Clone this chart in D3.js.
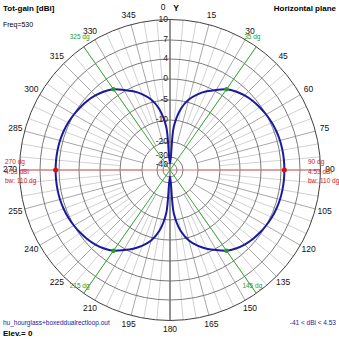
<!DOCTYPE html>
<html><head><meta charset="utf-8">
<script src="https://cdn.jsdelivr.net/npm/d3@7"></script>
<style>html,body{margin:0;padding:0;background:#fff;}svg{display:block;font-family:"Liberation Sans",Arial,sans-serif;}</style>
</head><body>
<script>
// ---- data ----
const angles = [0,5,10,15,20,25,30,35,40,45,50,55,60,65,70,75,80,85,90,95,100,105,110,115,120,125,130,135,140,145,150,155,160,165,170,175,
  180,185,190,195,200,205,210,215,220,225,230,235,240,245,250,255,260,265,270,275,280,285,290,295,300,305,310,315,320,325,330,335,340,345,350,355];
const gains = [-41,-13,-7,-4.3,-2.5,-1.0,0.3,1.5,2.3,2.9,3.35,3.7,4.0,4.2,4.35,4.45,4.5,4.53,4.53,4.53,4.5,4.45,4.35,4.2,4.0,3.7,3.35,2.9,2.3,1.5,0.3,-1.0,-2.5,-4.3,-7,-13,
  -41,-13,-7,-4.3,-2.5,-1.0,0.3,1.5,2.3,2.9,3.35,3.7,4.0,4.2,4.35,4.45,4.5,4.53,4.53,4.53,4.5,4.45,4.35,4.2,4.0,3.7,3.35,2.9,2.3,1.5,0.3,-1.0,-2.5,-4.3,-7,-13];
const ringValues = [10,7,4,0,-5,-10,-20,-30,-40];
const ringLabels = ["10","7","4","0","-5","-10","-20","-30","-40"];
const angleTicks = [0,15,30,45,60,75,90,105,120,135,150,165,180,195,210,225,240,255,270,285,300,315,330,345];
const maxAngles = [90,270];
const maxLabels = [["90 dg","4.53 dBi","bw: 110 dg"],["270 dg","4.53 dBi","bw: 110 dg"]];
const bwAngles = [35,145,215,325];
const bwLabels = ["35 dg","145 dg","215 dg","325 dg"];
const maxGain = 4.53, minGain = -41;

// ---- layout ----
const W = 339, H = 339, cx = 170, cy = 170;
const r = d3.scaleLinear()
  .domain([-40,-30,-20,-10,-5,0,4,7,10])
  .range([7,13,28,50,70,91,111,130,150.5]);
const R = r(10);
const pt = (a, rad) => [cx + rad*Math.sin(a*Math.PI/180), cy - rad*Math.cos(a*Math.PI/180)];
const gainAt = a => gains[angles.indexOf(a)];

const svg = d3.select("body").append("svg").attr("width", W).attr("height", H);

// radial grid lines
const fine = d3.range(0, 360, 5);
svg.append("g").selectAll("line").data(fine).join("line")
  .attr("x1", d => pt(d, r(d % 15 === 0 ? -20 : -10))[0])
  .attr("y1", d => pt(d, r(d % 15 === 0 ? -20 : -10))[1])
  .attr("x2", d => pt(d, R)[0]).attr("y2", d => pt(d, R)[1])
  .attr("stroke", d => d % 15 === 0 ? "#a8a8a8" : "#d2d2d2").attr("stroke-width", 1);

// rings
svg.append("g").selectAll("circle").data(ringValues).join("circle")
  .attr("cx", cx).attr("cy", cy).attr("r", d => r(d))
  .attr("fill", "none").attr("stroke", d => d === 10 ? "#404040" : "#7a7a7a").attr("stroke-width", 1);

// vertical axis
svg.append("line").attr("x1", cx).attr("y1", cy - R).attr("x2", cx).attr("y2", cy + R)
  .attr("stroke", "#707070").attr("stroke-width", 1.3);

// red horizontal line
svg.append("line").attr("x1", cx - R).attr("y1", cy).attr("x2", cx + R).attr("y2", cy)
  .attr("stroke", "#e07070").attr("stroke-width", 1);

// green beamwidth lines
svg.append("g").selectAll("line").data([35, 325]).join("line")
  .attr("x1", d => pt(d, R)[0]).attr("y1", d => pt(d, R)[1])
  .attr("x2", d => pt(d + 180, R)[0]).attr("y2", d => pt(d + 180, R)[1])
  .attr("stroke", "#3aa83a").attr("stroke-width", 1);

// ring labels
svg.append("g").selectAll("text").data(ringValues).join("text")
  .attr("x", cx - 2).attr("y", (d, i) => cy - r(d) + (i >= 7 ? (i === 7 ? -1 : 2) : 0))
  .attr("text-anchor", "end").attr("dominant-baseline", "middle")
  .attr("font-size", 8.5).attr("fill", "#222")
  .text((d, i) => ringLabels[i]);

// angle labels
svg.append("g").selectAll("text").data(angleTicks).join("text")
  .attr("x", d => pt(d, 160)[0] + (d === 0 ? -7 : 0))
  .attr("y", d => pt(d, 160)[1] + (d === 0 ? -2 : 0))
  .attr("text-anchor", "middle").attr("dominant-baseline", "middle")
  .attr("font-size", 8.5).attr("fill", "#111")
  .text(d => d);

// pattern
const line = d3.lineRadial()
  .angle((d, i) => angles[i] * Math.PI / 180)
  .radius(d => r(d))
  .curve(d3.curveCatmullRomClosed.alpha(0.5));
svg.append("path").attr("transform", `translate(${cx},${cy})`)
  .attr("d", line(gains)).attr("fill", "none").attr("stroke", "#1a1aa0").attr("stroke-width", 2);

// markers
svg.append("g").selectAll("circle").data(bwAngles).join("circle")
  .attr("cx", d => pt(d, r(gainAt(d)))[0]).attr("cy", d => pt(d, r(gainAt(d)))[1])
  .attr("r", 2.2).attr("fill", "#2a9a2a");
svg.append("g").selectAll("circle").data(maxAngles).join("circle")
  .attr("cx", d => pt(d, r(gainAt(d)))[0]).attr("cy", d => pt(d, r(gainAt(d)))[1])
  .attr("r", 2.5).attr("fill", "#e01010");

// green labels
svg.append("g").selectAll("text").data(bwAngles).join("text")
  .attr("x", d => pt(d, R)[0] - 4)
  .attr("y", d => pt(d, R)[1] + ((d === 35 || d === 325) ? -8 : -5))
  .attr("text-anchor", "middle").attr("font-size", 6.5).attr("fill", "#2a9a2a")
  .text((d, i) => bwLabels[i]);

// red labels
maxAngles.forEach((a, k) => {
  const x = a === 90 ? 308 : 5;
  const g = svg.append("g");
  maxLabels[k].forEach((t, j) => {
    g.append("text").attr("x", x).attr("y", 164 + j * 9.5)
      .attr("font-size", 6.5).attr("fill", "#d02020").text(t);
  });
});

// titles
svg.append("text").attr("x", 3).attr("y", 11).attr("font-size", 8).attr("font-weight", "bold").text("Tot-gain [dBi]");
svg.append("text").attr("x", 3).attr("y", 27).attr("font-size", 7).text("Freq=530");
svg.append("text").attr("x", 336).attr("y", 11).attr("font-size", 8).attr("font-weight", "bold").attr("text-anchor", "end").text("Horizontal plane");
svg.append("text").attr("x", 176).attr("y", 11).attr("font-size", 8.5).attr("font-weight", "bold").attr("text-anchor", "middle").text("Y");
svg.append("text").attr("x", 3).attr("y", 325).attr("font-size", 6.5).attr("fill", "#1a1aa0").text("hu_hourglass+boxeddualrectloop.out");
svg.append("text").attr("x", 3).attr("y", 336).attr("font-size", 8).attr("font-weight", "bold").text("Elev.= 0");
svg.append("text").attr("x", 336).attr("y", 325).attr("font-size", 6.5).attr("fill", "#1a1aa0").attr("text-anchor", "end")
  .text(`${minGain} < dBi < ${maxGain}`);
</script>
</body></html>
